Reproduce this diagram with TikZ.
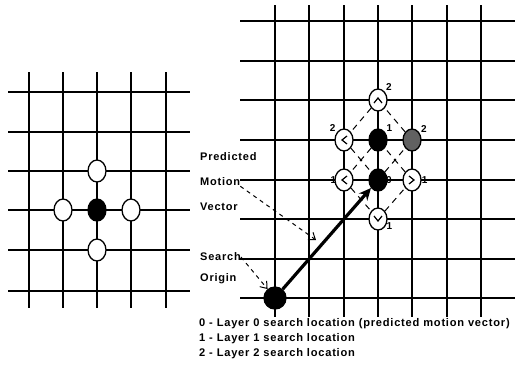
\documentclass[tikz,border=0pt]{standalone}
\usepackage{fontspec}
\setmainfont{Liberation Sans}[LetterSpace=7]
\usepackage{tikz}
\usetikzlibrary{arrows.meta,shapes.geometric}

\begin{document}
\begin{tikzpicture}[
        x=1pt, y=-1pt,
        gridline/.style={line width=1.5pt},
        spot/.style={draw, ellipse, line width=1.3pt, fill=white, minimum width=18pt, minimum height=22pt, inner sep=0pt},
        hit/.style={spot, fill=black},
        best/.style={spot, fill=black!62},
        chev/.style={line width=1.2pt},
        num/.style={font=\fontsize{10}{12}\selectfont\bfseries, inner sep=1pt},
        txt/.style={font=\fontsize{11}{13}\selectfont\bfseries, anchor=west, inner sep=0pt},
        legtxt/.style={txt, font=\fontsize{11.1}{13}\selectfont\bfseries},
        diam/.style={dash pattern=on 6pt off 5pt, line width=1pt},
        mv/.style={-{Stealth[length=12pt,width=11pt]}, line width=3.2pt},
        note/.style={dash pattern=on 4pt off 4pt, line width=1pt, -{Straight Barb[length=6pt,width=9pt]}}
    ]
    \useasboundingbox (0,0) rectangle (518,376);

    % small search (left)
    \foreach \gx in {29,63,97,131,166}
        \draw[gridline] (\gx,72) -- (\gx,308);
    \foreach \gy in {92,132,171,210,250,291}
        \draw[gridline] (8,\gy) -- (190,\gy);
    \node[hit] (cur) at (97,210) {};
    \node[spot] (up) at (97,171) {};
    \node[spot] (down) at (97,250) {};
    \node[spot] (west) at (63,210) {};
    \node[spot] (east) at (131,210) {};

    % layered search (right)
    \foreach \gx in {275,309,344,378,412,447,481}
        \draw[gridline] (\gx,5) -- (\gx,317);
    \foreach \gy in {21,61,100,140,180,219,259,298}
        \draw[gridline] (240,\gy) -- (515,\gy);

    \node[hit] (pmv) at (378,180) {};
    \node[hit, label={[num]45:1}] (lonetop) at (378,140) {};
    \node[spot, label={[num, label distance=-3pt]180:1}] (loneleft) at (344,180) {};
    \node[spot, label={[num, label distance=-1pt]0:1}] (loneright) at (412,180) {};
    \node[spot, label={[num, label distance=-2pt]-15:1}] (lonebot) at (378,219) {};
    \node[spot, label={[num]50:2}] (ltwotop) at (378,100) {};
    \node[spot, label={[num]135:2}] (ltwoleft) at (344,140) {};
    \node[best, label={[num]40:2}] (ltworight) at (412,140) {};
    \node[num, right=7pt] at (pmv.center) {0};

    \draw[chev] (ltwotop.center) ++(-4,3) -- ++(4,-5) -- ++(4,5);
    \draw[chev] (ltwoleft.center) ++(3,-4) -- ++(-5,4) -- ++(5,4);
    \draw[chev] (loneleft.center) ++(3,-4) -- ++(-5,4) -- ++(5,4);
    \draw[chev] (loneright.center) ++(-3,-4) -- ++(5,4) -- ++(-5,4);
    \draw[chev] (lonebot.center) ++(-4,-3) -- ++(4,5) -- ++(4,-5);

    \draw[diam] (lonetop) -- (loneleft);
    \draw[diam] (loneleft) -- (lonebot);
    \draw[diam] (lonebot) -- (loneright);
    \draw[diam] (loneright) -- (lonetop);
    \draw[diam] (ltwotop) -- (ltwoleft);
    \draw[diam] (ltwoleft) -- (pmv);
    \draw[diam] (pmv) -- (ltworight);
    \draw[diam] (ltworight) -- (ltwotop);

    \node[hit, minimum width=22pt, minimum height=22pt] (origin) at (275,298) {};
    \draw[mv] (origin) -- (pmv);

    \node[txt] (predicted) at (200,157) {Predicted};
    \node[txt] (motion) at (200,182) {Motion};
    \node[txt] (vector) at (200,207) {Vector};
    \node[txt] (search) at (200,257) {Search};
    \node[txt] (orig) at (200,279) {Origin};
    \coordinate (mvtip) at (316,240);
    \draw[note] (motion.south east) -- (mvtip);
    \draw[note] (search.east) -- (origin);

    \node[legtxt] (leg0) at (199,324) {0 - Layer 0 search location (predicted motion vector)};
    \node[legtxt] (leg1) at (199,339) {1 - Layer 1 search location};
    \node[legtxt] (leg2) at (199,354) {2 - Layer 2 search location};
\end{tikzpicture}
\end{document}
